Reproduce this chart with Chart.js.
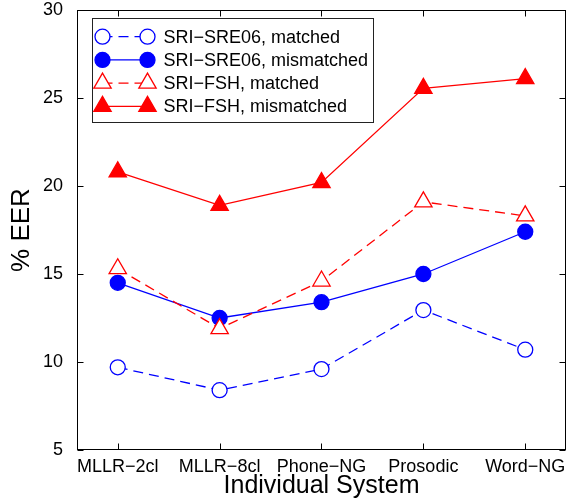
<!DOCTYPE html>
<html>
<head>
<meta charset="utf-8">
<script src="https://cdn.jsdelivr.net/npm/chart.js@4"></script>
<style>
  body { margin: 0; background: #fff; }
  canvas { display: block; }
</style>
</head>
<body>
<canvas id="eerChart" width="568" height="499"></canvas>
<script>
const categories = ['MLLR\u22122cl', 'MLLR\u22128cl', 'Phone\u2212NG', 'Prosodic', 'Word\u2212NG'];
const sre06Matched = [9.7, 8.4, 9.6, 12.95, 10.7];
const sre06Mismatched = [14.5, 12.5, 13.4, 15.0, 17.4];
const fshMatched = [15.3, 11.9, 14.6, 19.1, 18.3];
const fshMismatched = [20.8, 18.9, 20.2, 25.55, 26.1];
const yTicks = [5, 10, 15, 20, 25, 30];

const FONT = 'Liberation Sans, Arial, Helvetica, sans-serif';
const BLUE = '#0000ff';
const RED = '#ff0000';

function toPoints(vals) {
    return vals.map((v, i) => ({ x: i, y: v }));
}

function series(label, vals, color, style, filled, dashed, r, order) {
    return {
        label: label,
        data: toPoints(vals),
        borderColor: color,
        backgroundColor: filled ? color : '#ffffff',
        borderWidth: 1.3,
        borderDash: dashed ? [10, 6] : [],
        pointStyle: style,
        pointRadius: r,
        pointBorderWidth: 1.3,
        pointBorderColor: color,
        pointBackgroundColor: filled ? color : '#ffffff',
        fill: false,
        tension: 0,
        order: order
    };
}

// box, inward tick marks (matlab style)
const frame = {
    id: 'frame',
    afterDraw(chart) {
        const ctx = chart.ctx;
        const a = chart.chartArea;
        const xs = chart.scales.x, ys = chart.scales.y;
        const L = Math.round(a.left) + 0.5, R = Math.round(a.right) - 0.5;
        const T = Math.round(a.top) + 0.5, B = Math.round(a.bottom) - 0.5;
        ctx.save();
        ctx.strokeStyle = '#000';
        ctx.lineWidth = 1;
        ctx.beginPath();
        xs.ticks.forEach(t => {
            const px = Math.round(xs.getPixelForValue(t.value)) + 0.5;
            ctx.moveTo(px, B); ctx.lineTo(px, B - 6);
            ctx.moveTo(px, T); ctx.lineTo(px, T + 6);
        });
        ys.ticks.forEach(t => {
            const py = Math.round(ys.getPixelForValue(t.value)) + 0.5;
            ctx.moveTo(L, py); ctx.lineTo(L + 6, py);
            ctx.moveTo(R, py); ctx.lineTo(R - 6, py);
        });
        ctx.stroke();
        ctx.strokeRect(L, T, R - L, B - T);
        ctx.restore();
    }
};

// legend with line + marker at both ends
const legendBox = {
    id: 'legendBox',
    afterDatasetsDraw(chart) {
        const ctx = chart.ctx;
        const a = chart.chartArea;
        const bx = Math.round(a.left) + 15.5, by = Math.round(a.top) + 8.5;
        const bw = 281, bh = 104;
        ctx.save();
        ctx.fillStyle = '#fff';
        ctx.fillRect(bx, by, bw, bh);
        ctx.strokeStyle = '#222';
        ctx.lineWidth = 1;
        ctx.strokeRect(bx, by, bw, bh);
        chart.data.datasets.forEach((ds, i) => {
            const y = by + 18.2 + i * 23.2;
            const x1 = bx + 10, x2 = bx + 55;
            ctx.strokeStyle = ds.borderColor;
            ctx.lineWidth = ds.borderWidth;
            ctx.setLineDash(ds.borderDash);
            ctx.beginPath();
            ctx.moveTo(x1, y); ctx.lineTo(x2, y);
            ctx.stroke();
            ctx.setLineDash([]);
            [x1, x2].forEach(x => {
                ctx.fillStyle = ds.pointBackgroundColor;
                ctx.strokeStyle = ds.pointBorderColor;
                ctx.lineWidth = ds.pointBorderWidth;
                Chart.helpers.drawPoint(ctx, {
                    pointStyle: ds.pointStyle,
                    radius: ds.pointRadius,
                    borderWidth: ds.pointBorderWidth,
                    rotation: 0
                }, x, y);
            });
            ctx.fillStyle = '#000';
            ctx.font = '18px ' + FONT;
            ctx.textBaseline = 'middle';
            ctx.textAlign = 'left';
            ctx.fillText(ds.label, bx + 71, y + 1);
        });
        ctx.restore();
    }
};

new Chart(document.getElementById('eerChart').getContext('2d'), {
    type: 'line',
    data: {
        datasets: [
            series('SRI\u2212SRE06, matched', sre06Matched, BLUE, 'circle', false, true, 7.5, 3),
            series('SRI\u2212SRE06, mismatched', sre06Mismatched, BLUE, 'circle', true, false, 7.5, 2),
            series('SRI\u2212FSH, matched', fshMatched, RED, 'triangle', false, true, 10, 1),
            series('SRI\u2212FSH, mismatched', fshMismatched, RED, 'triangle', true, false, 10, 0)
        ]
    },
    options: {
        responsive: false,
        animation: false,
        layout: { autoPadding: false, padding: { top: 10, right: 2, bottom: 0, left: 0 } },
        plugins: {
            legend: { display: false },
            tooltip: { enabled: false }
        },
        scales: {
            x: {
                type: 'linear',
                min: -0.4,
                max: 4.4,
                afterBuildTicks: s => { s.ticks = categories.map((c, i) => ({ value: i })); },
                afterFit: s => { s.height = 49; s.paddingLeft = 0; s.paddingRight = 0; },
                grid: { display: false, drawTicks: false },
                border: { display: false },
                ticks: {
                    padding: 6,
                    color: '#000',
                    font: { family: FONT, size: 18 },
                    maxRotation: 0,
                    callback: v => categories[v]
                },
                title: {
                    display: true,
                    text: 'Individual System',
                    color: '#000',
                    font: { family: FONT, size: 25 },
                    padding: { top: 2, bottom: -2 }
                }
            },
            y: {
                min: 5,
                max: 30,
                afterBuildTicks: s => { s.ticks = yTicks.map(v => ({ value: v })); },
                afterFit: s => { s.width = 77; s.paddingTop = 0; s.paddingBottom = 0; },
                grid: { display: false, drawTicks: false },
                border: { display: false },
                ticks: {
                    padding: 14,
                    color: '#000',
                    font: { family: FONT, size: 18 }
                },
                title: {
                    display: true,
                    text: '% EER',
                    color: '#000',
                    font: { family: FONT, size: 26 },
                    padding: { top: 6, bottom: 0 }
                }
            }
        }
    },
    plugins: [frame, legendBox]
});
</script>
</body>
</html>
